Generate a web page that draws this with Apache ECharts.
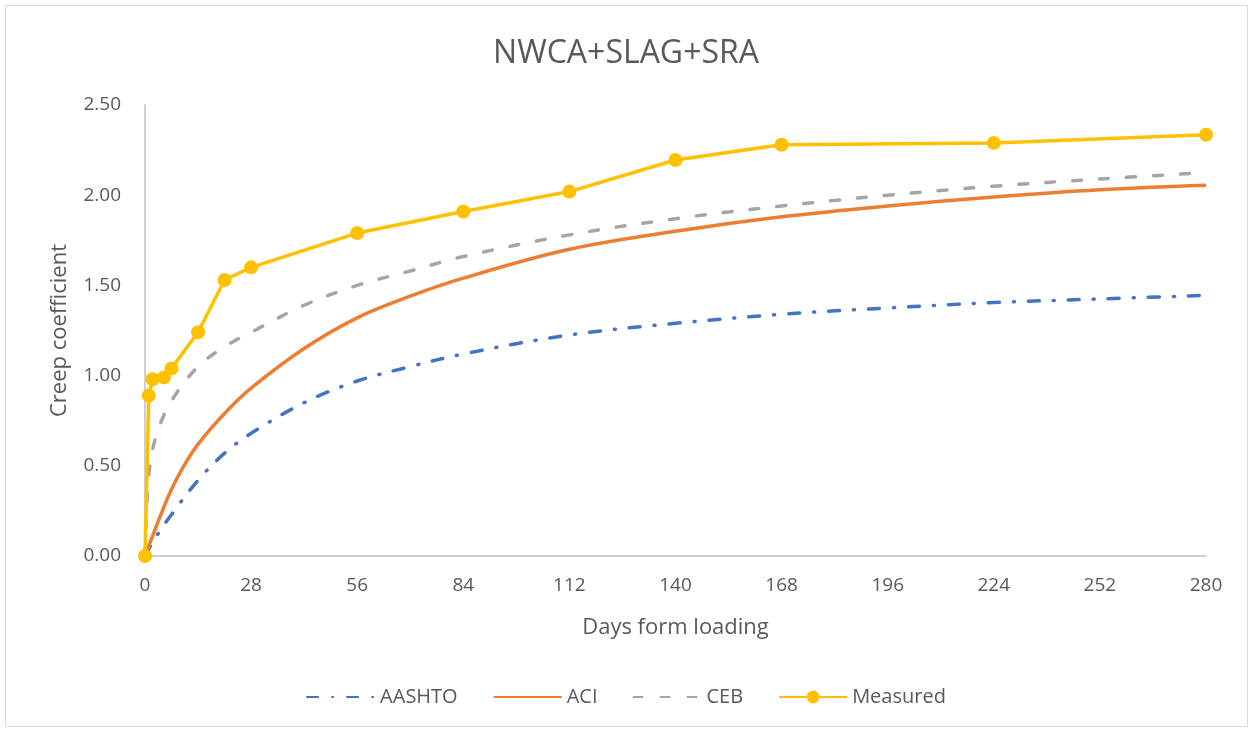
<!DOCTYPE html>
<html>
<head>
<meta charset="utf-8">
<script src="https://cdn.jsdelivr.net/npm/echarts@6/dist/echarts.min.js"></script>
<style>
html,body{margin:0;padding:0;background:#fff;}
#chart{width:1252px;height:732px;}
</style>
</head>
<body>
<div id="chart"></div>
<script>
// Data
const titleText = "NWCA+SLAG+SRA";
const xName = "Days form loading";
const yName = "Creep coefficient";
const seriesNames = ["AASHTO", "ACI", "CEB", "Measured"];

const curveDays = [0, 1, 3, 7, 14, 21, 28, 42, 56, 70, 84, 112, 140, 168, 196, 224, 252, 280];
const aashtoVals = [0, 0.04, 0.11, 0.23, 0.42, 0.57, 0.68, 0.85, 0.97, 1.05, 1.12, 1.225, 1.29, 1.34, 1.375, 1.405, 1.425, 1.445];
const cebVals    = [0, 0.45, 0.67, 0.86, 1.05, 1.16, 1.24, 1.39, 1.50, 1.58, 1.66, 1.78, 1.87, 1.94, 2.00, 2.05, 2.09, 2.125];

const aciDays = [0, 2, 4, 7, 10, 14, 21, 28, 42, 56, 70, 84, 112, 140, 168, 196, 224, 252, 280];
const aciVals = [0, 0.11, 0.22, 0.37, 0.49, 0.62, 0.79, 0.93, 1.15, 1.32, 1.44, 1.54, 1.70, 1.80, 1.88, 1.94, 1.99, 2.03, 2.055];

const measuredDays = [0, 1, 2, 5, 7, 14, 21, 28, 56, 84, 112, 140, 168, 224, 280];
const measuredVals = [0, 0.89, 0.98, 0.99, 1.04, 1.24, 1.53, 1.60, 1.79, 1.91, 2.02, 2.195, 2.28, 2.29, 2.335];

const xTicks = {min: 0, max: 280, interval: 28};
const yTicks = {min: 0, max: 2.5, interval: 0.5};

const pair = (xs, ys) => xs.map((x, i) => [x, ys[i]]);
const FONT = "'Open Sans', sans-serif";
const TXT = "#595959";

const chart = echarts.init(document.getElementById('chart'));
chart.setOption({
  animation: false,
  backgroundColor: '#fff',
  textStyle: {fontFamily: FONT},
  graphic: [{
    type: 'rect', shape: {x: 5.5, y: 5.5, width: 1242, height: 721},
    style: {fill: 'none', stroke: '#D9D9D9', lineWidth: 1}, silent: true, z: -10
  }],
  title: {
    text: titleText, left: 'center', top: 33,
    textStyle: {fontFamily: FONT, fontSize: 32, fontWeight: 'normal', color: TXT}
  },
  grid: {left: 145, right: 46, top: 105, bottom: 176, containLabel: false},
  legend: {
    bottom: 20, left: 'center', itemWidth: 68, itemHeight: 16, itemGap: 35,
    textStyle: {fontFamily: FONT, fontSize: 20, color: TXT},
    data: [
      {name: seriesNames[0], itemStyle: {opacity: 0}},
      {name: seriesNames[1], itemStyle: {opacity: 0}},
      {name: seriesNames[2], itemStyle: {opacity: 0}},
      {name: seriesNames[3]}
    ]
  },
  xAxis: {
    type: 'value', min: xTicks.min, max: xTicks.max, interval: xTicks.interval,
    name: xName, nameLocation: 'middle', nameGap: 61,
    nameTextStyle: {fontFamily: FONT, fontSize: 22, color: TXT},
    axisLine: {show: true, lineStyle: {color: '#BFBFBF', width: 1.5}},
    axisTick: {show: false},
    splitLine: {show: false},
    axisLabel: {fontFamily: FONT, fontSize: 19, color: TXT, margin: 20}
  },
  yAxis: {
    type: 'value', min: yTicks.min, max: yTicks.max, interval: yTicks.interval,
    name: yName, nameLocation: 'middle', nameGap: 74, nameRotate: 90,
    nameTextStyle: {fontFamily: FONT, fontSize: 22, color: TXT},
    axisLine: {show: true, lineStyle: {color: '#BFBFBF', width: 1.5}},
    axisTick: {show: false},
    splitLine: {show: false},
    axisLabel: {fontFamily: FONT, fontSize: 19, color: TXT, margin: 24,
      formatter: v => v.toFixed(2)}
  },
  series: [
    {
      name: seriesNames[0], type: 'line', data: pair(curveDays, aashtoVals),
      smooth: 0.35, showSymbol: false, symbol: 'none',
      lineStyle: {color: '#4472C4', width: 3.5, type: [11, 14, 1, 14], cap: 'round'},
      itemStyle: {color: '#4472C4'}, z: 2
    },
    {
      name: seriesNames[1], type: 'line', data: pair(aciDays, aciVals),
      smooth: 0.35, showSymbol: false, symbol: 'none',
      lineStyle: {color: '#ED7D31', width: 3.5}, itemStyle: {color: '#ED7D31'}, z: 3
    },
    {
      name: seriesNames[2], type: 'line', data: pair(curveDays, cebVals),
      smooth: 0.35, showSymbol: false, symbol: 'none',
      lineStyle: {color: '#A5A5A5', width: 3.5, type: [9, 18], cap: 'round'},
      itemStyle: {color: '#A5A5A5'}, z: 4
    },
    {
      name: seriesNames[3], type: 'line', data: pair(measuredDays, measuredVals),
      symbol: 'circle', symbolSize: 14, showSymbol: true,
      lineStyle: {color: '#FFC000', width: 3.5}, itemStyle: {color: '#FFC000'}, z: 5
    }
  ]
});
</script>
</body>
</html>
